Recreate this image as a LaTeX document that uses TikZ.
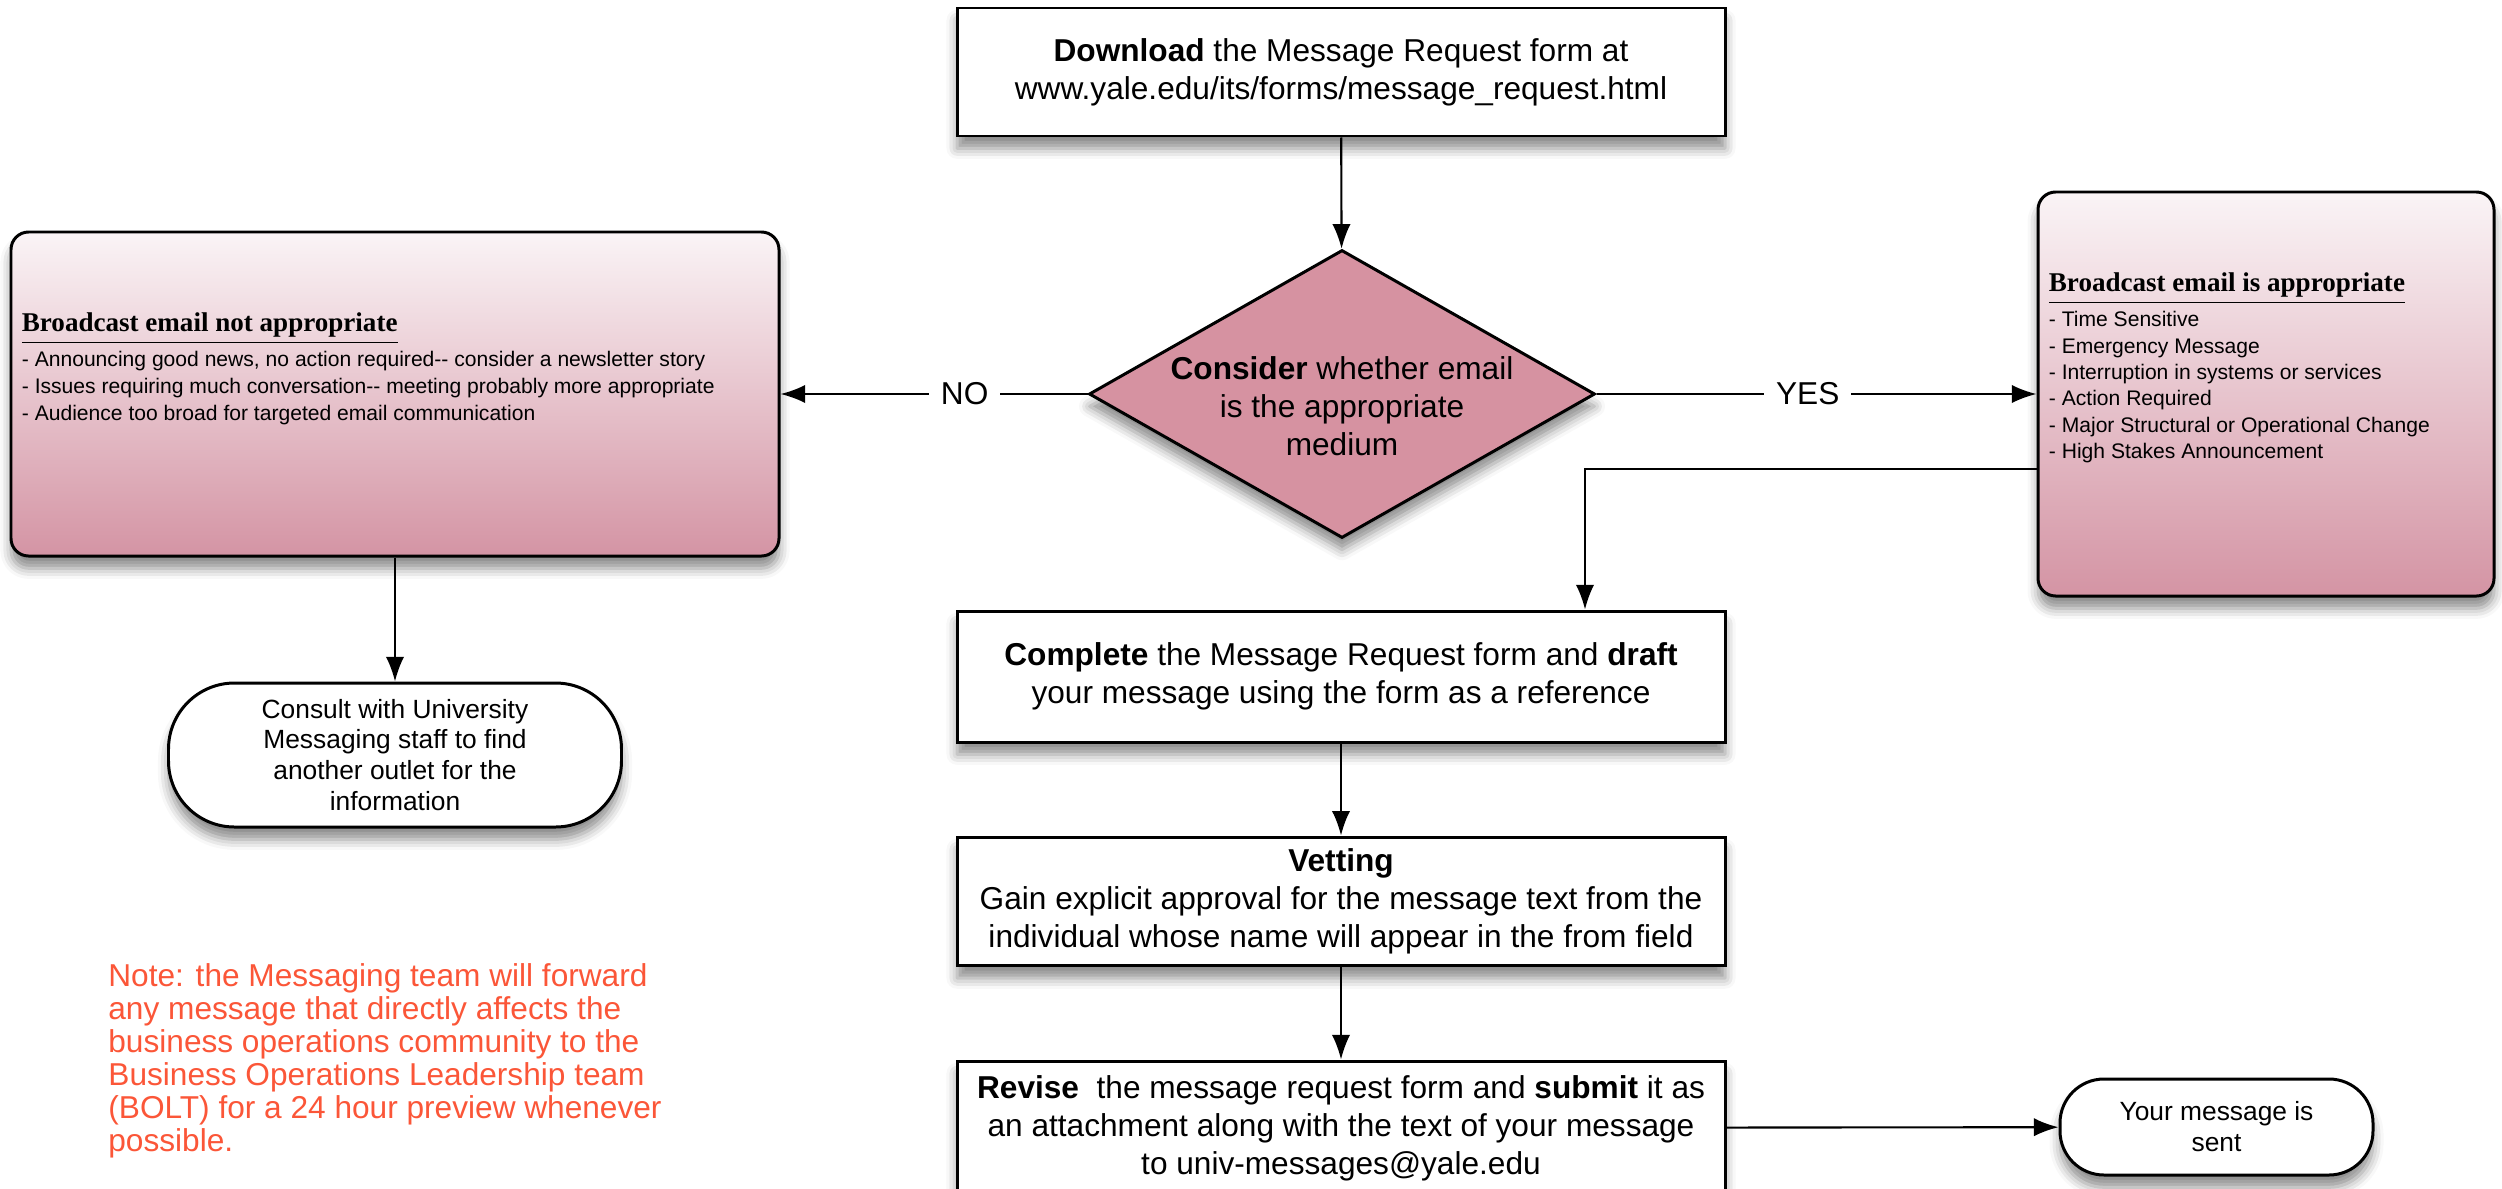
\documentclass[tikz,border=0pt]{standalone}
\usepackage{fontspec}
\setmainfont{Liberation Sans}
\newfontfamily\headfont{Liberation Serif}
\usetikzlibrary{shapes.geometric,arrows.meta,shadows.blur}
\definecolor{pinktop}{RGB}{250,244,246}
\definecolor{pinkbot}{RGB}{212,148,164}
\definecolor{diapink}{RGB}{214,146,161}
\definecolor{notered}{RGB}{251,86,56}

\begin{document}
\begin{tikzpicture}[thick, >={Latex[length=7pt,width=5.2pt]},
				boxshadow/.style = {blur shadow={shadow xshift=0pt, shadow yshift=-3.5pt, shadow blur radius=3pt, shadow opacity=45}},
				main/.style = {draw, line width=0.85pt, fill=white, boxshadow, minimum width=7.68cm, align=center, font=\fontsize{9}{10.8}\selectfont},
				case/.style = {draw, line width=0.85pt, rounded corners=5pt, top color=pinktop, bottom color=pinkbot, boxshadow},
				ends/.style = {draw, line width=0.85pt, fill=white, boxshadow, align=center, font=\fontsize{7.5}{8.8}\selectfont},
				list/.style = {align=left, inner sep=0pt, font=\fontsize{6}{7.7}\selectfont},
				arr/.style = {->, line width=0.6pt}]
				
				\useasboundingbox (0,0) rectangle (25.02,-11.89);
				
				\node[main, minimum height=1.28cm] (1) at (13.41,-0.72) {\textbf{Download} the Message Request form at\\www.yale.edu/its/forms/message\_request.html};
				\node[diamond, draw, line width=0.85pt, fill=diapink, boxshadow, minimum width=5.06cm, minimum height=2.88cm] (2) at (13.42,-3.94) {};
				\node[align=center, font=\fontsize{9}{10.8}\selectfont] (2t) at ([yshift=-0.12cm]2.center) {\textbf{Consider} whether email\\is the appropriate\\medium};
				\node[case, minimum width=7.68cm, minimum height=3.24cm] (3) at (3.95,-3.94) {};
				\node[case, minimum width=4.56cm, minimum height=4.04cm] (4) at (22.66,-3.94) {};
				\node[main, minimum height=1.31cm] (5) at (13.41,-6.765) {\textbf{Complete} the Message Request form and \textbf{draft}\\your message using the form as a reference};
				\node[main, minimum height=1.27cm] (6) at (13.41,-9.015) {\textbf{Vetting}\\Gain explicit approval for the message text from the\\individual whose name will appear in the from field};
				\node[main, minimum height=1.34cm] (7) at (13.41,-11.28) {\textbf{Revise}\ \ the message request form and \textbf{submit} it as\\an attachment along with the text of your message\\to univ-messages@yale.edu};
				\node[ends, rounded corners=0.44cm, minimum width=3.13cm, minimum height=0.96cm] (8) at (22.165,-11.27) {Your message is\\sent};
				\node[ends, rounded corners=0.66cm, minimum width=4.53cm, minimum height=1.44cm] (9) at (3.95,-7.55) {Consult with University\\Messaging staff to find\\another outlet for the\\information};
				
				\node[list, anchor=west] (3t) at ([xshift=0.11cm, yshift=0.25cm]3.west) {{\headfont\bfseries\fontsize{7.7}{9}\selectfont\underline{Broadcast email not appropriate}}\\[1pt]
					- Announcing good news, no action required-{}- consider a newsletter story\\
					- Issues requiring much conversation-{}- meeting probably more appropriate\\
					- Audience too broad for targeted email communication};
				\node[list, anchor=west, font=\fontsize{6}{7.5}\selectfont] (4t) at ([xshift=0.11cm, yshift=0.26cm]4.west) {{\headfont\bfseries\fontsize{7.7}{9}\selectfont\underline{Broadcast email is appropriate}}\\[1pt]
					- Time Sensitive\\
					- Emergency Message\\
					- Interruption in systems or services\\
					- Action Required\\
					- Major Structural or Operational Change\\
					- High Stakes Announcement};
				\node[anchor=north west, align=left, inner sep=0pt, text=notered, font=\fontsize{9}{9.4}\selectfont] (10) at (1.07,-9.62) {Note: the Messaging team will forward\\any message that directly affects the\\business operations community to the\\Business Operations Leadership team\\(BOLT) for a 24 hour preview whenever\\possible.};
				
				\coordinate (k) at (15.85,-4.69);
				
				\draw[arr] (1) to (2);
				\draw[arr] (2) to node[pos=.4, fill=white, font=\fontsize{9}{10.8}\selectfont] (no) {NO} (3);
				\draw[arr] (2) to node[pos=.48, fill=white, font=\fontsize{9}{10.8}\selectfont] (yes) {YES} (4);
				\draw[arr] (4.west |- k) -| (5.north -| k);
				\draw[arr] (5) to (6);
				\draw[arr] (6) to (7);
				\draw[arr] (7) to (8);
				\draw[arr] (3) to (9);
				
			\end{tikzpicture}
\end{document}
